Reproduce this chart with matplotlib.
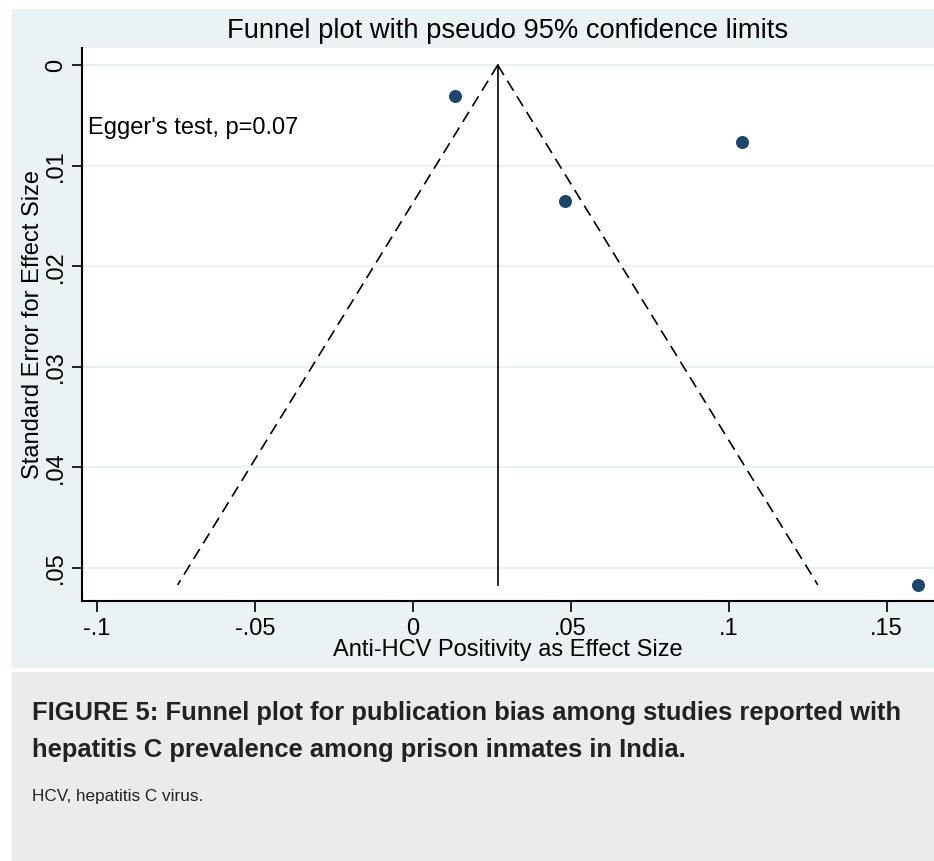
import matplotlib
matplotlib.use("Agg")
import matplotlib.pyplot as plt
from matplotlib.patches import Rectangle
import numpy as np

plt.rcParams['font.family'] = ['Liberation Sans', 'DejaVu Sans']

# Data
effect_size = [0.0133, 0.1041, 0.0481, 0.1600]
std_error = [0.0031, 0.0076, 0.0135, 0.0517]
pooled_effect = 0.0269
xticks = [-0.1, -0.05, 0, 0.05, 0.1, 0.15]
xtick_labels = ['-.1', '-.05', '0', '.05', '.1', '.15']
yticks = [0, 0.01, 0.02, 0.03, 0.04, 0.05]
ytick_labels = ['0', '.01', '.02', '.03', '.04', '.05']

W, H = 934, 861
fig = plt.figure(figsize=(W / 100, H / 100), dpi=100)
fig.patch.set_facecolor('white')

def rect(x0, y0, x1, y1, color):
    fig.patches.append(Rectangle((x0 / W, 1 - y1 / H), (x1 - x0) / W, (y1 - y0) / H,
                                 transform=fig.transFigure, facecolor=color,
                                 edgecolor='none', zorder=-10))

rect(12, 9, 934, 668, '#eaf2f3')
rect(12, 672, 934, 861, '#ebebeb')

ax = fig.add_axes([82 / W, 1 - 601 / H, (934 - 82) / W, (601 - 48) / H])
ax.set_facecolor('white')

ax.set_xlim(-0.1047, 0.165)
ax.set_ylim(0.0533, -0.0017)

for y in yticks:
    ax.axhline(y, color='#e6eff1', lw=1.2, zorder=0)

se_max = max(std_error)
se_line = np.array([0, se_max])
ax.plot(pooled_effect - 1.96 * se_line, se_line, color='black', lw=1.2, dashes=(7, 4))
ax.plot(pooled_effect + 1.96 * se_line, se_line, color='black', lw=1.2, dashes=(7, 4))
ax.plot([pooled_effect, pooled_effect], [0, se_max], color='black', lw=1.2)

ax.scatter(effect_size, std_error, s=70, color='#1a476f', zorder=3)

ax.text(-0.1028, 0.0063, "Egger's test, p=0.07", fontsize=17, va='center', ha='left')

ax.set_xticks(xticks)
ax.set_xticklabels(xtick_labels)
ax.set_yticks(yticks)
ax.set_yticklabels(ytick_labels, rotation=90, va='center')
ax.tick_params(axis='both', width=1.2, labelsize=17, direction='out')
ax.tick_params(axis='x', length=8, pad=4)
ax.tick_params(axis='y', length=7.2, pad=3.6)

for s in ['top', 'right']:
    ax.spines[s].set_visible(False)
for s in ['left', 'bottom']:
    ax.spines[s].set_linewidth(1.5)

ax.set_xlabel('Anti-HCV Positivity as Effect Size', fontsize=17, labelpad=-0.5)
ax.set_ylabel('Standard Error for Effect Size', fontsize=17, labelpad=0.5)

fig.text(508 / W, 1 - 31 / H, 'Funnel plot with pseudo 95% confidence limits',
         fontsize=19.7, ha='center', va='center')

fig.text(32 / W, 1 - 713 / H,
         'FIGURE 5: Funnel plot for publication bias among studies reported with',
         fontsize=18.4, fontweight='bold', color='#222222', ha='left', va='center')
fig.text(32 / W, 1 - 750 / H,
         'hepatitis C prevalence among prison inmates in India.',
         fontsize=18.4, fontweight='bold', color='#222222', ha='left', va='center')
fig.text(32 / W, 1 - 796 / H, 'HCV, hepatitis C virus.',
         fontsize=12.3, color='#222222', ha='left', va='center')

fig.savefig('out.png', dpi=100)
